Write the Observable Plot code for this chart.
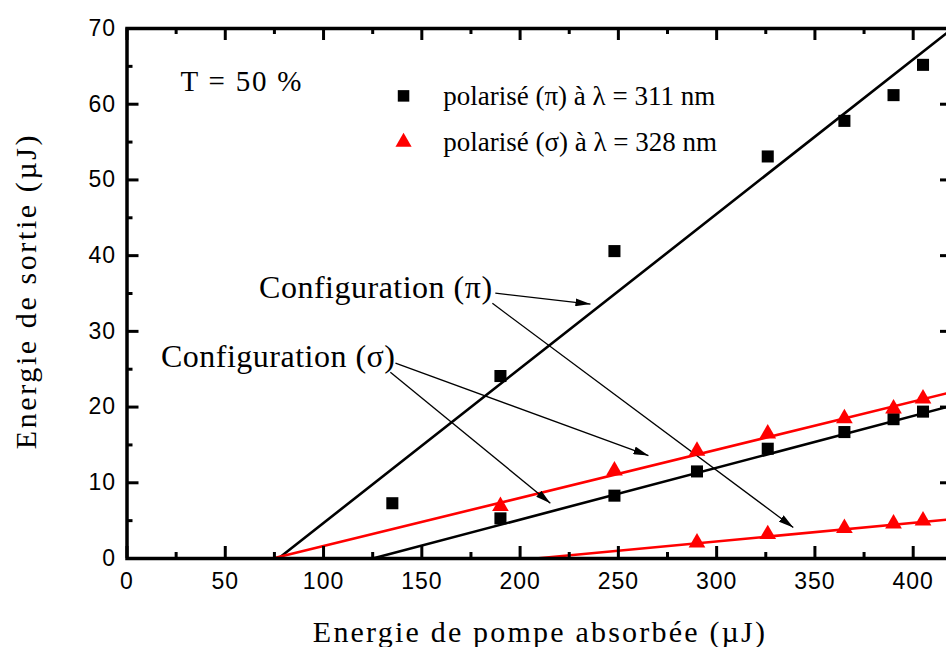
<!DOCTYPE html>
<html><head><meta charset="utf-8">
<script src="https://cdn.jsdelivr.net/npm/d3@7"></script>
<script src="https://cdn.jsdelivr.net/npm/@observablehq/plot@0.6"></script>
<style>
html,body{margin:0;padding:0;background:#fff;overflow:hidden;}
svg{max-width:none !important;display:block;}
</style></head><body><div id="chart"></div>
<script>
// Configuration (π), λ = 311 nm (black squares, steep line)
const pi311X = [135, 190, 248, 326, 365, 390, 405];
const pi311Y = [7.3, 24.1, 40.6, 53.1, 57.8, 61.2, 65.2];
// Configuration (σ), λ = 311 nm (black squares, lower line)
const sig311X = [190, 248, 290, 326, 365, 390, 405];
const sig311Y = [5.3, 8.3, 11.5, 14.5, 16.7, 18.4, 19.4];
// Configuration (σ), λ = 328 nm (red triangles, upper red line)
const sig328X = [190, 248, 290, 326, 365, 390, 405];
const sig328Y = [6.9, 11.6, 14.2, 16.5, 18.5, 19.8, 21.1];
// Configuration (π), λ = 328 nm (red triangles, lower red line)
const pi328X = [290, 326, 365, 390, 405];
const pi328Y = [2.1, 3.2, 4.0, 4.6, 5.0];

// linear fits (start, end)
const fitPi311X = [77, 420], fitPi311Y = [0, 70];
const fitSig311X = [125, 420], fitSig311Y = [0, 20.2];
const fitSig328X = [74, 420], fitSig328Y = [0, 22.0];
const fitPi328X = [208, 420], fitPi328Y = [0, 5.2];

// ticks
const xMajor = [0, 50, 100, 150, 200, 250, 300, 350, 400];
const xMinor = [25, 75, 125, 175, 225, 275, 325, 375];
const yMajor = [0, 10, 20, 30, 40, 50, 60, 70];
const yMinor = [5, 15, 25, 35, 45, 55, 65];

// annotations
const annotText = ["Configuration (π)", "Configuration (σ)"];
const annotX = [186, 136.6];
const annotY = [35.7, 26.6];
const arrowX1 = [187.4, 185.9, 136.6, 134.0];
const arrowY1 = [35.05, 33.7, 25.8, 24.6];
const arrowX2 = [235.8, 339, 265.3, 215.4];
const arrowY2 = [33.6, 4.1, 13.6, 7.3];
const tempText = ["T = 50 %"], tempX = [27.2], tempY = [63];

// legend
const legendText = ["polarisé (π) à λ = 311 nm", "polarisé (σ) à λ = 328 nm"];
const legendX = [140.7, 140.7];
const legendTextX = [160.9, 160.9];
const legendY = [61.1, 55.0];

const xLabel = "Energie de pompe absorbée (µJ)";
const yLabel = "Energie de sortie (µJ)";

const serif = "'Liberation Serif', 'Times New Roman', serif";
const sans = "'Liberation Sans', Arial, sans-serif";

const W = 960, H = 647, ML = 126.5, MR = 8, MT = 28, MB = 89;
const FW = W - ML - MR, FH = H - MT - MB;
const MAJ = 12, MIN = 6;

const line = (X, Y, color) => Plot.line(X.map((x, i) => ({x, y: Y[i]})), {x: "x", y: "y", stroke: color, strokeWidth: 2.6});
const pts = (X, Y, sym, color, r) => Plot.dot(X.map((x, i) => ({x, y: Y[i]})), {x: "x", y: "y", symbol: () => sym, fill: color, stroke: "none", r});
const tk = {stroke: "black", strokeWidth: 3, strokeLinecap: "butt"};

const arrows = arrowX1.map((x1, i) => ({x1, y1: arrowY1[i], x2: arrowX2[i], y2: arrowY2[i]}));

const chart = Plot.plot({
  width: W, height: H,
  marginLeft: ML, marginRight: MR, marginTop: MT, marginBottom: MB,
  x: {domain: [0, 420], axis: null},
  y: {domain: [0, 70], axis: null},
  symbol: {type: "identity"},
  style: {background: "white", color: "black", overflow: "visible"},
  marks: [
    line(fitPi311X, fitPi311Y, "black"),
    line(fitSig311X, fitSig311Y, "black"),
    line(fitSig328X, fitSig328Y, "red"),
    line(fitPi328X, fitPi328Y, "red"),
    Plot.link(arrows, {x1: "x1", y1: "y1", x2: "x2", y2: "y2", stroke: "black", strokeWidth: 1.3}),
    pts(pi311X, pi311Y, "square", "black", 6.8),
    pts(sig311X, sig311Y, "square", "black", 6.8),
    pts(sig328X, sig328Y, "triangle", "red", 6.2),
    pts(pi328X, pi328Y, "triangle", "red", 6.2),
    pts([legendX[0]], [legendY[0]], "square", "black", 6.5),
    pts([legendX[1]], [legendY[1]], "triangle", "red", 6.0),
    Plot.text(legendText, {x: legendTextX, y: legendY, text: legendText, textAnchor: "start", fontSize: 27, fontFamily: serif, fill: "black"}),
    Plot.text(annotText, {x: annotX, y: annotY, text: annotText, textAnchor: "end", fontSize: 32, fontFamily: serif, fill: "black", className: "annot"}),
    Plot.text(tempText, {x: tempX, y: tempY, text: tempText, textAnchor: "start", fontSize: 29, fontFamily: serif, fill: "black", className: "temp"}),
    Plot.text(xMajor, {x: d => d, frameAnchor: "bottom", dy: 30, text: d => String(d), fontSize: 23, fontFamily: sans, fill: "black", className: "xlab"}),
    Plot.text(yMajor, {y: d => d, frameAnchor: "left", dx: -11, textAnchor: "end", text: d => String(d), fontSize: 23, fontFamily: sans, fill: "black", className: "ylab"}),
    Plot.frame({stroke: "black", strokeWidth: 3.5}),
    Plot.ruleX(xMajor, {x: d => d, insetTop: FH - MAJ, ...tk}),
    Plot.ruleX(xMinor, {x: d => d, insetTop: FH - MIN, ...tk}),
    Plot.ruleX(xMajor, {x: d => d, insetBottom: FH - MAJ, ...tk}),
    Plot.ruleX(xMinor, {x: d => d, insetBottom: FH - MIN, ...tk}),
    Plot.ruleY(yMajor, {y: d => d, insetRight: FW - MAJ, ...tk}),
    Plot.ruleY(yMinor, {y: d => d, insetRight: FW - MIN, ...tk}),
    Plot.ruleY(yMajor, {y: d => d, insetLeft: FW - MAJ, ...tk}),
    Plot.ruleY(yMinor, {y: d => d, insetLeft: FW - MIN, ...tk})
  ]
});

const svg = d3.select(chart);
// filled arrowheads
svg.insert("defs", ":first-child").append("marker")
  .attr("id", "ah").attr("viewBox", "0 0 15 8").attr("refX", 15).attr("refY", 4)
  .attr("markerWidth", 15).attr("markerHeight", 8).attr("markerUnits", "userSpaceOnUse")
  .attr("orient", "auto")
  .append("path").attr("d", "M0,0L15,4L0,8z").attr("fill", "black");
svg.selectAll('g[aria-label="link"] path').attr("marker-end", "url(#ah)");
svg.selectAll(".xlab text, .ylab text").attr("letter-spacing", "1px");
svg.selectAll(".annot text").attr("letter-spacing", "0.5px");
svg.selectAll(".temp text").attr("letter-spacing", "1.8px");

// axis titles
svg.append("text").text(xLabel)
  .attr("x", 540).attr("y", 642).attr("text-anchor", "middle")
  .attr("font-family", serif).attr("font-size", 30).attr("letter-spacing", "2.2px").attr("fill", "black");
svg.append("text").text(yLabel)
  .attr("transform", "translate(36,291) rotate(-90)").attr("text-anchor", "middle")
  .attr("font-family", serif).attr("font-size", 30).attr("letter-spacing", "2.6px").attr("fill", "black");

document.getElementById("chart").appendChild(chart);
</script></body></html>
